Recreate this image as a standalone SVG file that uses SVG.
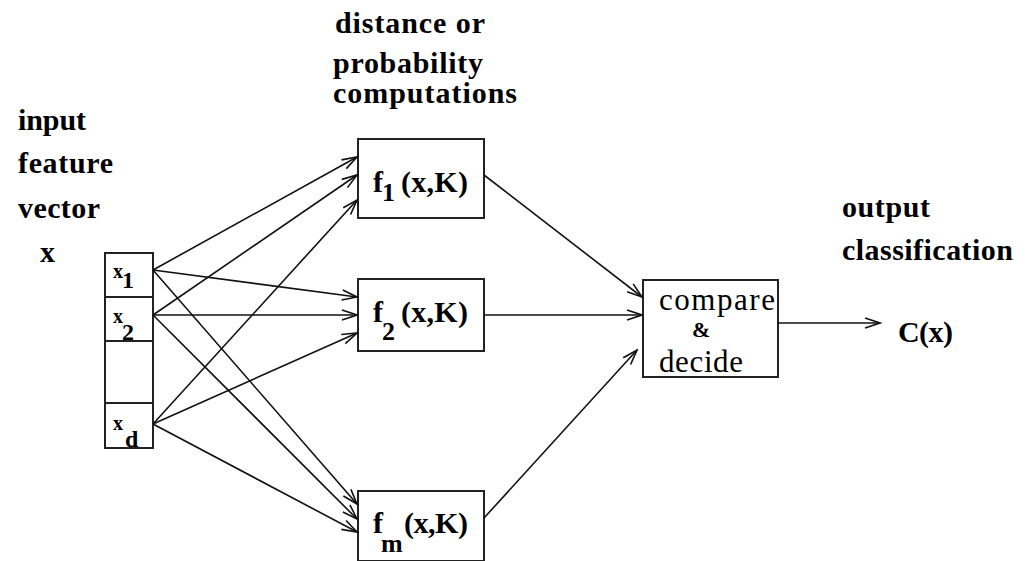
<svg xmlns="http://www.w3.org/2000/svg" width="1027" height="561" viewBox="0 0 1027 561">
<style>
.lbl{font-family:"Liberation Serif","Times New Roman","DejaVu Serif",serif;font-weight:bold;font-size:30px;fill:#000}
.reg{font-family:"Liberation Serif","Times New Roman","DejaVu Serif",serif;font-weight:normal;font-size:31px;fill:#000}
.box{fill:#fff;stroke:#222;stroke-width:2}
.sep{stroke:#222;stroke-width:2}
.con{stroke:#111;stroke-width:1.6;fill:none;marker-end:url(#ah)}
</style>
<defs>
<marker id="ah" markerUnits="userSpaceOnUse" markerWidth="18" markerHeight="14" refX="16" refY="6" orient="auto">
<path d="M1,1 L16,6 L1,11" fill="none" stroke="#111" stroke-width="1.6"/>
</marker>
</defs>
<rect width="1027" height="561" fill="#fff"/>
<g id="labels">
<text class="lbl" x="18" y="130" textLength="68" lengthAdjust="spacing">input</text>
<text class="lbl" x="18" y="173" textLength="95" lengthAdjust="spacing">feature</text>
<text class="lbl" x="18" y="218" textLength="82" lengthAdjust="spacing">vector</text>
<text class="lbl" x="40" y="262">x</text>
<text class="lbl" x="335" y="33" textLength="150" lengthAdjust="spacing">distance  or</text>
<text class="lbl" x="333" y="73" textLength="150" lengthAdjust="spacing">probability</text>
<text class="lbl" x="333" y="103" textLength="184" lengthAdjust="spacing">computations</text>
<text class="lbl" x="842" y="217" textLength="88" lengthAdjust="spacing">output</text>
<text class="lbl" x="842" y="260" textLength="171" lengthAdjust="spacing">classification</text>
<text class="lbl" x="898" y="342" textLength="55" lengthAdjust="spacing">C(x)</text>
</g>
<g id="input-vector">
<rect class="box" x="105" y="253" width="48" height="195"/>
<line class="sep" x1="105" y1="297" x2="153" y2="297"/>
<line class="sep" x1="105" y1="341" x2="153" y2="341"/>
<line class="sep" x1="105" y1="403" x2="153" y2="403"/>
<text class="lbl" x="113" y="278" style="font-size:20px">x</text>
<text class="lbl" x="122" y="288" style="font-size:24px">1</text>
<text class="lbl" x="113" y="323" style="font-size:20px">x</text>
<text class="lbl" x="122" y="340" style="font-size:24px">2</text>
<text class="lbl" x="113" y="430" style="font-size:20px">x</text>
<text class="lbl" x="125" y="447" style="font-size:24px">d</text>
</g>
<g id="f1">
<rect class="box" x="358" y="139" width="126" height="79"/>
<text class="lbl" x="373" y="192">f</text>
<text class="lbl" x="382" y="201" style="font-size:26px">1</text>
<text class="lbl" x="401" y="192" textLength="67" lengthAdjust="spacing">(x,K)</text>
</g>
<g id="f2">
<rect class="box" x="358" y="279" width="126" height="72"/>
<text class="lbl" x="373" y="322">f</text>
<text class="lbl" x="382" y="340" style="font-size:26px">2</text>
<text class="lbl" x="401" y="322" textLength="67" lengthAdjust="spacing">(x,K)</text>
</g>
<g id="fm">
<rect class="box" x="358" y="491" width="126" height="70"/>
<text class="lbl" x="373" y="533">f</text>
<text class="lbl" x="381" y="552" style="font-size:26px">m</text>
<text class="lbl" x="404" y="533" textLength="64" lengthAdjust="spacing">(x,K)</text>
</g>
<g id="compare">
<rect class="box" x="643" y="280" width="135" height="97"/>
<text class="reg" x="659" y="310" textLength="116" lengthAdjust="spacing">compare</text>
<text class="lbl" x="692" y="337" style="font-size:22px">&amp;</text>
<text class="reg" x="659" y="372" textLength="84" lengthAdjust="spacing">decide</text>
</g>
<g id="connectors">
<line class="con" x1="153" y1="270" x2="357" y2="157"/>
<line class="con" x1="153" y1="315" x2="357" y2="175"/>
<line class="con" x1="153" y1="424" x2="357" y2="200"/>
<line class="con" x1="153" y1="270" x2="357" y2="297"/>
<line class="con" x1="153" y1="315" x2="357" y2="315"/>
<line class="con" x1="153" y1="424" x2="357" y2="333"/>
<line class="con" x1="153" y1="270" x2="357" y2="504"/>
<line class="con" x1="153" y1="315" x2="357" y2="519"/>
<line class="con" x1="153" y1="424" x2="357" y2="532"/>
<line class="con" x1="484" y1="175" x2="642" y2="297"/>
<line class="con" x1="484" y1="315" x2="642" y2="315"/>
<line class="con" x1="484" y1="518" x2="637" y2="350"/>
<line class="con" x1="778" y1="323" x2="880" y2="323"/>
</g>
</svg>
